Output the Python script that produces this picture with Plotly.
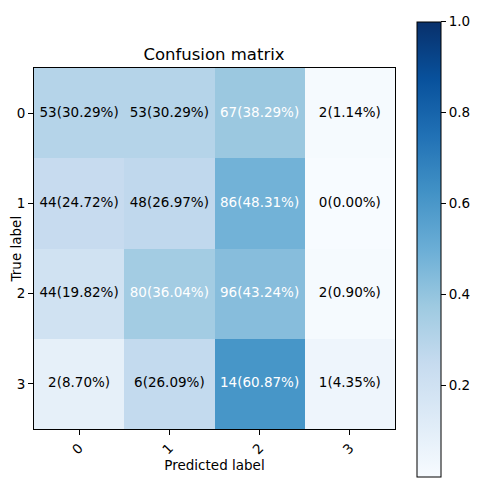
import plotly.graph_objects as go

# Data
classes = ["0", "1", "2", "3"]
counts = [
    [53, 53, 67, 2],
    [44, 48, 86, 0],
    [44, 80, 96, 2],
    [2, 6, 14, 1],
]
percents = [
    [30.29, 30.29, 38.29, 1.14],
    [24.72, 26.97, 48.31, 0.00],
    [19.82, 36.04, 43.24, 0.90],
    [8.70, 26.09, 60.87, 4.35],
]
cbar_ticks = [0.2, 0.4, 0.6, 0.8, 1.0]

# matplotlib "Blues"
blues = ["#f7fbff", "#deebf7", "#c6dbef", "#9ecae1", "#6baed6",
         "#4292c6", "#2171b5", "#08519c", "#08306b"]
colorscale = [[i / (len(blues) - 1), c] for i, c in enumerate(blues)]

norm = [[p / 100 for p in row] for row in percents]
thresh = max(max(r) for r in norm) / 2

# page body has an 8px margin, so the figure is drawn 8px smaller
W = H = 492

fig = go.Figure()

fig.add_trace(go.Heatmap(
    z=norm,
    x=list(range(len(classes))),
    y=list(range(len(classes))),
    colorscale=colorscale,
    zmin=0, zmax=1,
    hoverinfo="skip",
    colorbar=dict(
        x=1.061, xanchor="left", xref="paper", xpad=0,
        y=0.498, yanchor="middle", ypad=0,
        len=455, lenmode="pixels",
        thickness=24,
        outlinecolor="black", outlinewidth=1,
        ticks="outside", ticklen=5, tickcolor="black",
        tickvals=cbar_ticks,
        ticktext=[f"{t:.1f}" for t in cbar_ticks],
        tickfont=dict(size=13.5, color="black"),
    ),
))

# Cell labels
xs, ys, txt, cols = [], [], [], []
for i, row in enumerate(counts):
    for j, c in enumerate(row):
        xs.append(j)
        ys.append(i)
        txt.append(f"{c}({percents[i][j]:.2f}%)")
        cols.append("white" if norm[i][j] > thresh else "black")

fig.add_trace(go.Scatter(
    x=xs, y=ys, text=txt, mode="text",
    textposition="middle center",
    textfont=dict(size=13.5, color=cols, family="DejaVu Sans"),
    hoverinfo="skip", showlegend=False,
))

axis_common = dict(
    showline=True, mirror=True, linecolor="black", linewidth=1,
    ticks="outside", ticklen=5, tickcolor="black",
    showgrid=False, zeroline=False, automargin=False,
    tickfont=dict(size=13.5, color="black"),
    tickvals=list(range(len(classes))),
    ticktext=classes,
)

fig.update_xaxes(
    **axis_common,
    range=[-0.5, 3.5],
    tickangle=-45,
    title=dict(text="Predicted label", font=dict(size=13.5, color="black"), standoff=2),
)
fig.update_yaxes(**axis_common, range=[3.5, -0.5])

# y title sits very close to the edge, place it by hand
fig.add_annotation(
    text="True label", textangle=-90,
    xref="paper", yref="paper", x=-0.05, y=0.5,
    xanchor="center", yanchor="middle", showarrow=False,
    font=dict(size=13.5, color="black"),
)

fig.update_layout(
    width=W, height=H,
    margin=dict(l=26, r=105, t=60, b=71, autoexpand=False),
    paper_bgcolor="white", plot_bgcolor="white",
    font=dict(family="DejaVu Sans", color="black"),
    title=dict(text="Confusion matrix", x=206 / W, xanchor="center",
               y=1 - 46 / H, yanchor="middle",
               font=dict(size=16.5, color="black")),
    showlegend=False,
)

fig.write_html("out.html")
